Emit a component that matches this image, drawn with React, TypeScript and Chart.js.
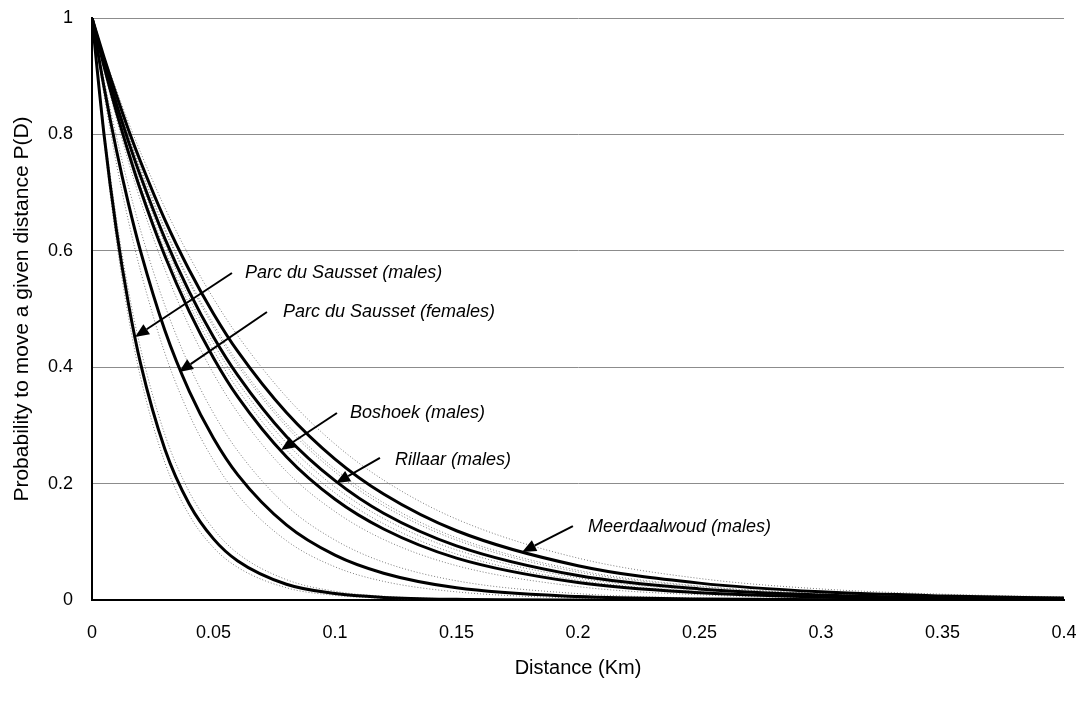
import React, { useEffect, useRef } from "react";
import { Chart, registerables } from "chart.js";

Chart.register(...registerables);

// ---- Data ----
const DIST = [0, 0.005, 0.01, 0.015, 0.02, 0.03, 0.04, 0.05, 0.06, 0.08, 0.1, 0.12, 0.15, 0.2, 0.25, 0.3, 0.35, 0.4];

const P_SAUSSET_M = [1, 0.798, 0.637, 0.509, 0.406, 0.259, 0.165, 0.105, 0.067, 0.027, 0.011, 0.0045, 0.0012, 0.0001, 0, 0, 0, 0];
const P_SAUSSET_M_LO = [1, 0.786, 0.618, 0.486, 0.382, 0.236, 0.146, 0.09, 0.056, 0.021, 0.008, 0.003, 0.0007, 0, 0, 0, 0, 0];
const P_SAUSSET_M_HI = [1, 0.81, 0.657, 0.532, 0.432, 0.284, 0.186, 0.122, 0.08, 0.035, 0.015, 0.0065, 0.0018, 0.0002, 0, 0, 0, 0];

const P_SAUSSET_F = [1, 0.88, 0.774, 0.681, 0.599, 0.463, 0.359, 0.278, 0.215, 0.129, 0.077, 0.046, 0.021, 0.006, 0.0016, 0.0005, 0.0001, 0];
const P_SAUSSET_F_LO = [1, 0.867, 0.751, 0.651, 0.565, 0.424, 0.319, 0.24, 0.18, 0.102, 0.057, 0.032, 0.014, 0.0033, 0.0008, 0.0002, 0, 0];
const P_SAUSSET_F_HI = [1, 0.893, 0.797, 0.711, 0.635, 0.506, 0.403, 0.321, 0.256, 0.162, 0.103, 0.065, 0.033, 0.011, 0.0034, 0.0011, 0.0004, 0.0001];

const P_BOSHOEK = [1, 0.916, 0.839, 0.769, 0.704, 0.591, 0.496, 0.416, 0.349, 0.246, 0.173, 0.122, 0.072, 0.03, 0.0125, 0.0052, 0.0022, 0.0009];
const P_BOSHOEK_LO = [1, 0.91, 0.828, 0.753, 0.686, 0.568, 0.47, 0.389, 0.322, 0.221, 0.152, 0.104, 0.059, 0.023, 0.0089, 0.0035, 0.0014, 0.0005];
const P_BOSHOEK_HI = [1, 0.921, 0.849, 0.782, 0.72, 0.612, 0.519, 0.441, 0.374, 0.27, 0.194, 0.14, 0.086, 0.038, 0.0166, 0.0073, 0.0032, 0.0014];

const P_RILLAAR = [1, 0.924, 0.853, 0.788, 0.728, 0.621, 0.53, 0.452, 0.386, 0.281, 0.205, 0.149, 0.093, 0.042, 0.019, 0.0086, 0.0039, 0.0017];
const P_RILLAAR_LO = [1, 0.919, 0.844, 0.776, 0.712, 0.601, 0.508, 0.429, 0.362, 0.258, 0.184, 0.131, 0.079, 0.034, 0.0145, 0.0062, 0.0027, 0.0011];
const P_RILLAAR_HI = [1, 0.928, 0.861, 0.799, 0.742, 0.639, 0.55, 0.474, 0.408, 0.303, 0.225, 0.167, 0.107, 0.051, 0.024, 0.0114, 0.0054, 0.0026];

const P_MEERDAAL = [1, 0.932, 0.868, 0.808, 0.753, 0.653, 0.567, 0.492, 0.427, 0.322, 0.242, 0.182, 0.119, 0.059, 0.029, 0.014, 0.007, 0.0034];
const P_MEERDAAL_LO = [1, 0.927, 0.859, 0.797, 0.739, 0.635, 0.546, 0.469, 0.403, 0.298, 0.22, 0.162, 0.103, 0.048, 0.023, 0.0106, 0.005, 0.0023];
const P_MEERDAAL_HI = [1, 0.936, 0.877, 0.821, 0.769, 0.674, 0.591, 0.518, 0.454, 0.349, 0.268, 0.206, 0.139, 0.072, 0.037, 0.019, 0.01, 0.0052];

const SOLID_SERIES = [P_SAUSSET_M, P_SAUSSET_F, P_BOSHOEK, P_RILLAAR, P_MEERDAAL];
const BOUND_SERIES = [
  P_SAUSSET_M_LO, P_SAUSSET_M_HI,
  P_SAUSSET_F_LO, P_SAUSSET_F_HI,
  P_BOSHOEK_LO, P_BOSHOEK_HI,
  P_RILLAAR_LO, P_RILLAAR_HI,
  P_MEERDAAL_LO, P_MEERDAAL_HI,
];

const X_TICK_LABELS = ["0", "0.05", "0.1", "0.15", "0.2", "0.25", "0.3", "0.35", "0.4"];
const Y_TICK_LABELS = ["0", "0.2", "0.4", "0.6", "0.8", "1"];
const X_TITLE = "Distance (Km)";
const Y_TITLE = "Probability to move a given distance P(D)";

// annotations (data coordinates)
const ANNOT_LABELS = [
  "Parc du Sausset (males)",
  "Parc du Sausset (females)",
  "Boshoek (males)",
  "Rillaar (males)",
  "Meerdaalwoud (males)",
];
const ANNOT_TEXT_X = [0.063, 0.0786, 0.1062, 0.1247, 0.2041];
const ANNOT_TEXT_Y = [0.5619, 0.4948, 0.3213, 0.2405, 0.1254];
const ANNOT_TAIL_X = [0.0576, 0.072, 0.1008, 0.1185, 0.1979];
const ANNOT_TAIL_Y = [0.5619, 0.4948, 0.3213, 0.244, 0.1271];
const ANNOT_HEAD_X = [0.0177, 0.0358, 0.0778, 0.1004, 0.177];
const ANNOT_HEAD_Y = [0.4519, 0.3918, 0.2577, 0.201, 0.0825];

const FONT_FAMILY = "'Liberation Sans', Arial, sans-serif";

const arrowPlugin = {
  id: "arrowAnnotations",
  afterDatasetsDraw(chart: any) {
    const { ctx, scales } = chart;
    const xs = scales.x;
    const ys = scales.y;
    ctx.save();
    ctx.strokeStyle = "#000";
    ctx.fillStyle = "#000";
    ctx.lineWidth = 2;
    ANNOT_LABELS.forEach((label, i) => {
      const tx = xs.getPixelForValue(ANNOT_TAIL_X[i]);
      const ty = ys.getPixelForValue(ANNOT_TAIL_Y[i]);
      const hx = xs.getPixelForValue(ANNOT_HEAD_X[i]);
      const hy = ys.getPixelForValue(ANNOT_HEAD_Y[i]);
      const ang = Math.atan2(hy - ty, hx - tx);
      const headLen = 14;
      const headHalf = 6;
      const bx = hx - headLen * Math.cos(ang);
      const by = hy - headLen * Math.sin(ang);
      ctx.beginPath();
      ctx.moveTo(tx, ty);
      ctx.lineTo(bx, by);
      ctx.stroke();
      ctx.beginPath();
      ctx.moveTo(hx, hy);
      ctx.lineTo(bx + headHalf * Math.sin(ang), by - headHalf * Math.cos(ang));
      ctx.lineTo(bx - headHalf * Math.sin(ang), by + headHalf * Math.cos(ang));
      ctx.closePath();
      ctx.fill();
      ctx.font = `italic 18px ${FONT_FAMILY}`;
      ctx.textBaseline = "middle";
      ctx.textAlign = "left";
      ctx.fillText(label, xs.getPixelForValue(ANNOT_TEXT_X[i]), ys.getPixelForValue(ANNOT_TEXT_Y[i]));
    });
    ctx.restore();
  },
};

export default function App() {
  const ref = useRef<HTMLCanvasElement | null>(null);

  useEffect(() => {
    if (!ref.current) return;
    const toPts = (arr: number[]) => arr.map((v, i) => ({ x: DIST[i], y: v }));
    const datasets: any[] = [];
    SOLID_SERIES.forEach((s) => {
      datasets.push({
        data: toPts(s),
        borderColor: "#000",
        borderWidth: 3,
        pointRadius: 0,
        fill: false,
        cubicInterpolationMode: "monotone",
      });
    });
    BOUND_SERIES.forEach((s) => {
      datasets.push({
        data: toPts(s),
        borderColor: "#7a7a7a",
        borderWidth: 1,
        borderDash: [1, 2],
        pointRadius: 0,
        fill: false,
        cubicInterpolationMode: "monotone",
      });
    });

    const tickFont = { family: FONT_FAMILY, size: 18 };
    const xTitleFont = { family: FONT_FAMILY, size: 20 };
    const yTitleFont = { family: FONT_FAMILY, size: 21 };
    const chart = new Chart(ref.current, {
      type: "line",
      data: { datasets },
      options: {
        responsive: false,
        animation: false,
        layout: { padding: { top: 18, right: 24, left: 0, bottom: 0 } },
        plugins: { legend: { display: false }, tooltip: { enabled: false } },
        scales: {
          x: {
            type: "linear",
            min: 0,
            max: 0.4,
            ticks: {
              stepSize: 0.05,
              autoSkip: false,
              maxRotation: 0,
              padding: 22,
              color: "#000",
              font: tickFont,
              callback: (_v: any, i: number) => X_TICK_LABELS[i] ?? "",
            },
            grid: { display: false, drawTicks: false },
            border: { color: "#000", width: 2 },
            title: { display: true, text: X_TITLE, color: "#000", font: xTitleFont, padding: { top: 0, bottom: 21 } },
            afterFit: (s: any) => {
              s.height = 101;
              s.paddingLeft = 0;
              s.paddingRight = 0;
            },
          },
          y: {
            min: 0,
            max: 1,
            ticks: {
              stepSize: 0.2,
              padding: 19,
              color: "#000",
              font: tickFont,
              callback: (_v: any, i: number) => Y_TICK_LABELS[i] ?? "",
            },
            grid: { color: "#8c8c8c", lineWidth: 1, drawTicks: false },
            border: { color: "#000", width: 2 },
            title: { display: true, text: Y_TITLE, color: "#000", font: yTitleFont, padding: { top: 10, bottom: 0 } },
            afterFit: (s: any) => {
              s.width = 92;
              s.paddingTop = 0;
              s.paddingBottom = 0;
            },
          },
        },
      } as any,
      plugins: [arrowPlugin],
    });
    return () => chart.destroy();
  }, []);

  return (
    <div style={{ position: "absolute", left: 0, top: 0, width: 1088, height: 701, background: "#fff" }}>
      <canvas ref={ref} width={1088} height={701} style={{ display: "block" }} />
    </div>
  );
}
